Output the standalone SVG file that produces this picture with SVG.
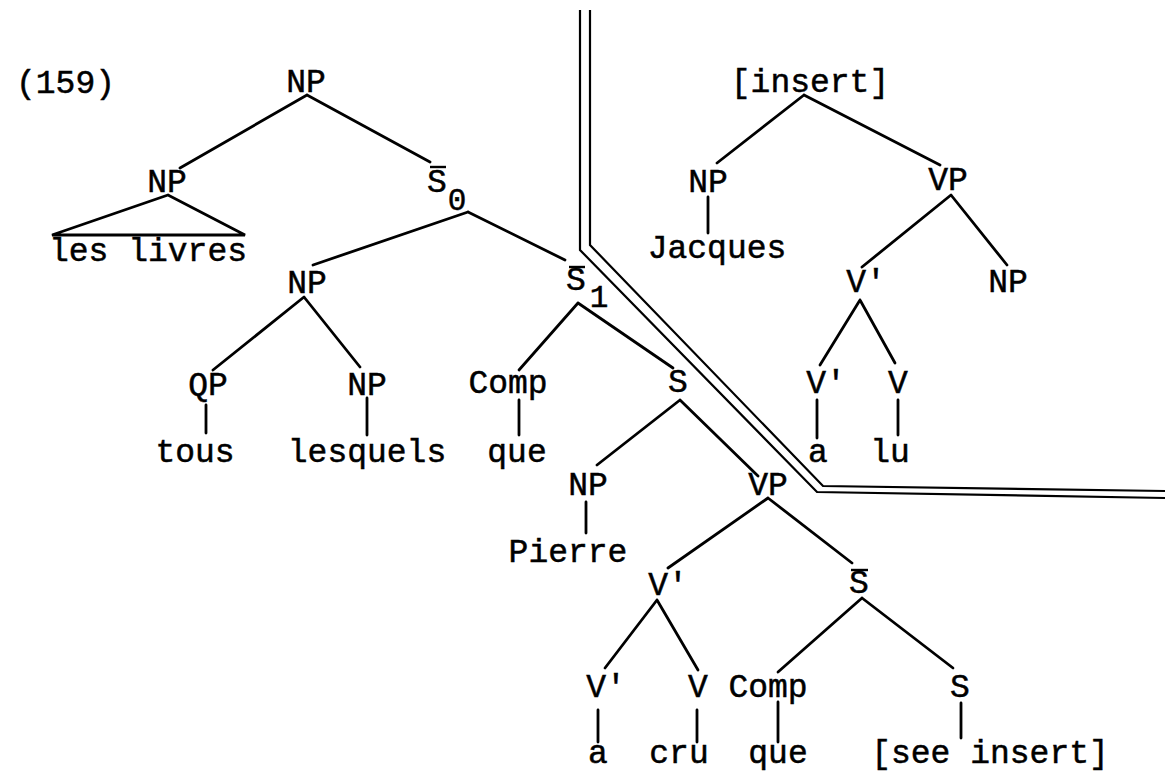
<svg xmlns="http://www.w3.org/2000/svg" width="1170" height="771" viewBox="0 0 1170 771">
<style>
text{font-family:"Liberation Mono","DejaVu Sans Mono",monospace;font-size:33px;fill:#000;stroke:#000;stroke-width:0.5;text-anchor:middle}
.sub{font-size:31px}
.l{stroke:#000;stroke-width:2.8;fill:none;stroke-linecap:round}
.d{stroke:#000;stroke-width:2.2;fill:none}
.bar{stroke:#000;stroke-width:2.4}
</style>
<rect width="1170" height="771" fill="#fff"/>
<text x="16" y="93" style="text-anchor:start">(159)</text>
<g id="connectors">
<path class="l" d="M307 95L180 168M307 95L430 162"/>
<path class="l" d="M168 195L52 235L245 235Z"/>
<path class="l" d="M468 212L313 265M468 212L565 260"/>
<path class="l" d="M304 297L213 370M304 297L360 367"/>
<path class="l" d="M206 405L206 433M367 398L367 435"/>
<path class="l" d="M578 303L519 370M578 303L673 368M519 400L519 435"/>
<path class="l" d="M680 400L597 465M680 400L758 476M586 502L586 533"/>
<path class="l" d="M768 498L668 568M768 498L852 563"/>
<path class="l" d="M657 600L605 668M657 600L698 670"/>
<path class="l" d="M862 598L778 672M862 598L953 668"/>
<path class="l" d="M598 710L598 742M697 710L697 742M778 702L778 742M961 703L961 738"/>
<path class="l" d="M804 95L717 163M804 95L940 165M708 197L708 233"/>
<path class="l" d="M951 195L862 267M951 195L1007 265"/>
<path class="l" d="M860 300L820 365M860 300L895 363"/>
<path class="l" d="M817 400L817 438M898 400L898 435"/>
</g>
<g id="divider">
<polyline class="d" points="580,10 580,250 817,492 1165,498"/>
<polyline class="d" points="590,10 590,245 823,486 1165,491"/>
</g>
<g id="n-np0"><text x="306" y="92">NP</text></g>
<g id="n-np1"><text x="167" y="192">NP</text></g>
<g id="n-leslivres"><text x="148" y="261">les livres</text></g>
<g id="n-s0"><text x="437" y="192">S</text><line class="bar" x1="430" y1="167" x2="446" y2="167"/><text class="sub" x="457" y="210">0</text></g>
<g id="n-np2"><text x="307" y="293">NP</text></g>
<g id="n-s1"><text x="576" y="290">S</text><line class="bar" x1="569" y1="267" x2="585" y2="267"/><text class="sub" x="599" y="307">1</text></g>
<g id="n-qp"><text x="208" y="395">QP</text></g>
<g id="n-np3"><text x="367" y="395">NP</text></g>
<g id="n-comp1"><text x="508" y="393">Comp</text></g>
<g id="n-s2"><text x="678" y="392">S</text></g>
<g id="n-tous"><text x="195" y="462">tous</text></g>
<g id="n-lesquels"><text x="367" y="462">lesquels</text></g>
<g id="n-que1"><text x="517" y="462">que</text></g>
<g id="n-np4"><text x="588" y="495">NP</text></g>
<g id="n-vp1"><text x="768" y="495">VP</text></g>
<g id="n-pierre"><text x="568" y="562">Pierre</text></g>
<g id="n-vbar1"><text x="668" y="595">V'</text></g>
<g id="n-sbar"><text x="859" y="593">S</text><line class="bar" x1="851" y1="570" x2="868" y2="570"/></g>
<g id="n-vbar2"><text x="606" y="697">V'</text></g>
<g id="n-v2"><text x="698" y="697">V</text></g>
<g id="n-comp2"><text x="768" y="697">Comp</text></g>
<g id="n-s3"><text x="960" y="697">S</text></g>
<g id="n-a1"><text x="598" y="763">a</text></g>
<g id="n-cru"><text x="679" y="763">cru</text></g>
<g id="n-que2"><text x="778" y="763">que</text></g>
<g id="n-see"><text x="990" y="763">[see insert]</text></g>
<g id="n-insert"><text x="810" y="92">[insert]</text></g>
<g id="n-np5"><text x="708" y="192">NP</text></g>
<g id="n-vp2"><text x="948" y="190">VP</text></g>
<g id="n-jacques"><text x="717" y="258">Jacques</text></g>
<g id="n-vbar3"><text x="866" y="292">V'</text></g>
<g id="n-np6"><text x="1008" y="292">NP</text></g>
<g id="n-vbar4"><text x="826" y="393">V'</text></g>
<g id="n-v4"><text x="898" y="393">V</text></g>
<g id="n-a2"><text x="818" y="462">a</text></g>
<g id="n-lu"><text x="890" y="462">lu</text></g>
</svg>
